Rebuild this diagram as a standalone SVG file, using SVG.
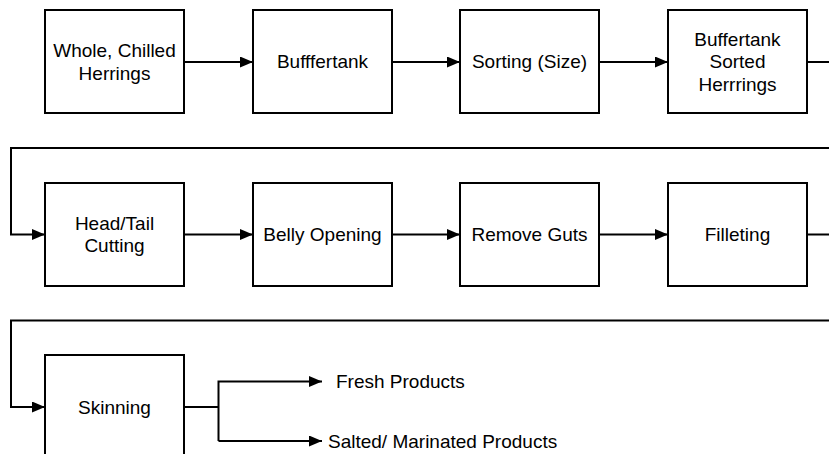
<svg xmlns="http://www.w3.org/2000/svg" width="829" height="454" viewBox="0 0 829 454">
<style>
.box{fill:#fff;stroke:#000;stroke-width:2}
.lbl{font-family:"Liberation Sans",Arial,sans-serif;font-size:19px;fill:#000;text-anchor:middle}
.out{font-family:"Liberation Sans",Arial,sans-serif;font-size:19px;fill:#000}
.con{fill:none;stroke:#000;stroke-width:2}
</style>
<defs>
<marker id="ah" markerUnits="userSpaceOnUse" markerWidth="14" markerHeight="12" refX="13" refY="5.5" orient="auto">
<path d="M0,0 L13,5.5 L0,11 Z" fill="#000"/>
</marker>
</defs>
<g id="connectors">
<path class="con" d="M184,62 H253" marker-end="url(#ah)"/>
<path class="con" d="M392,62 H460" marker-end="url(#ah)"/>
<path class="con" d="M599,62 H668" marker-end="url(#ah)"/>
<path class="con" d="M807,62 H845 V148 H11 V234.5 H45" marker-end="url(#ah)"/>
<path class="con" d="M184,234.5 H253" marker-end="url(#ah)"/>
<path class="con" d="M392,234.5 H460" marker-end="url(#ah)"/>
<path class="con" d="M599,234.5 H668" marker-end="url(#ah)"/>
<path class="con" d="M807,234.5 H845 V320.5 H11 V407 H45" marker-end="url(#ah)"/>
<path class="con" d="M184,407 H218.5"/>
<path class="con" d="M218.5,441 V381.5 H322" marker-end="url(#ah)"/>
<path class="con" d="M218.5,441 H322" marker-end="url(#ah)"/>
</g>
<g id="n1"><rect class="box" x="45" y="10" width="139" height="103"/><text class="lbl" x="114.5" y="57">Whole, Chilled</text><text class="lbl" x="114.5" y="79.5">Herrings</text></g>
<g id="n2"><rect class="box" x="253" y="10" width="139" height="103"/><text class="lbl" x="322.5" y="68">Bufffertank</text></g>
<g id="n3"><rect class="box" x="460" y="10" width="139" height="103"/><text class="lbl" x="529.5" y="68">Sorting (Size)</text></g>
<g id="n4"><rect class="box" x="668" y="10" width="139" height="103"/><text class="lbl" x="737.5" y="45.5">Buffertank</text><text class="lbl" x="737.5" y="68">Sorted</text><text class="lbl" x="737.5" y="90.5">Herrrings</text></g>
<g id="n5"><rect class="box" x="45" y="183" width="139" height="103"/><text class="lbl" x="114.5" y="229.8">Head/Tail</text><text class="lbl" x="114.5" y="252.3">Cutting</text></g>
<g id="n6"><rect class="box" x="253" y="183" width="139" height="103"/><text class="lbl" x="322.5" y="241">Belly Opening</text></g>
<g id="n7"><rect class="box" x="460" y="183" width="139" height="103"/><text class="lbl" x="529.5" y="241">Remove Guts</text></g>
<g id="n8"><rect class="box" x="668" y="183" width="139" height="103"/><text class="lbl" x="737.5" y="241">Filleting</text></g>
<g id="n9"><rect class="box" x="45" y="355" width="139" height="103"/><text class="lbl" x="114.5" y="414">Skinning</text></g>
<g id="out1"><text class="out" x="336" y="388">Fresh Products</text></g>
<g id="out2"><text class="out" x="328" y="447.5">Salted/ Marinated Products</text></g>
</svg>
